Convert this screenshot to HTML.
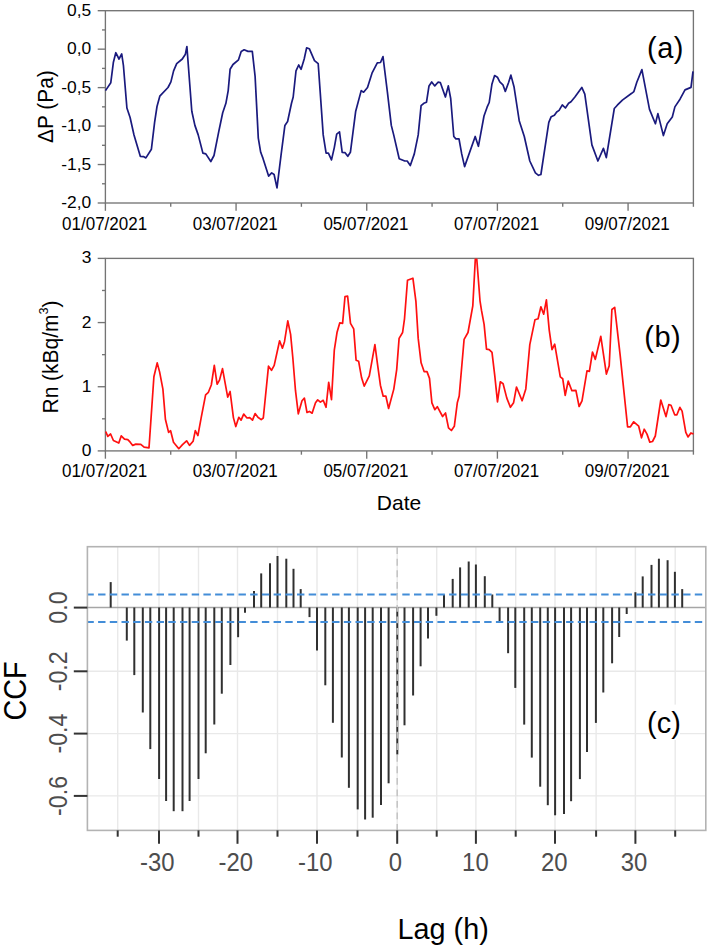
<!DOCTYPE html><html><head><meta charset="utf-8"><style>html,body{margin:0;padding:0;background:#fff;}svg{display:block;}text{font-family:"Liberation Sans", sans-serif;}</style></head><body>
<svg width="709" height="948" viewBox="0 0 709 948">
<rect width="709" height="948" fill="#fff"/>
<rect x="105.4" y="10.7" width="588.0" height="192.3" fill="none" stroke="#747474" stroke-width="1.35"/>
<line x1="97.70" y1="10.70" x2="105.40" y2="10.70" stroke="#747474" stroke-width="1.35" />
<text x="91.30" y="15.70" font-size="17.4" fill="#000" text-anchor="end" >0,5</text>
<line x1="102.00" y1="29.93" x2="105.40" y2="29.93" stroke="#747474" stroke-width="1.35" />
<line x1="97.70" y1="49.16" x2="105.40" y2="49.16" stroke="#747474" stroke-width="1.35" />
<text x="91.30" y="54.16" font-size="17.4" fill="#000" text-anchor="end" >0,0</text>
<line x1="102.00" y1="68.39" x2="105.40" y2="68.39" stroke="#747474" stroke-width="1.35" />
<line x1="97.70" y1="87.62" x2="105.40" y2="87.62" stroke="#747474" stroke-width="1.35" />
<text x="91.30" y="92.62" font-size="17.4" fill="#000" text-anchor="end" >-0,5</text>
<line x1="102.00" y1="106.85" x2="105.40" y2="106.85" stroke="#747474" stroke-width="1.35" />
<line x1="97.70" y1="126.08" x2="105.40" y2="126.08" stroke="#747474" stroke-width="1.35" />
<text x="91.30" y="131.08" font-size="17.4" fill="#000" text-anchor="end" >-1,0</text>
<line x1="102.00" y1="145.31" x2="105.40" y2="145.31" stroke="#747474" stroke-width="1.35" />
<line x1="97.70" y1="164.54" x2="105.40" y2="164.54" stroke="#747474" stroke-width="1.35" />
<text x="91.30" y="169.54" font-size="17.4" fill="#000" text-anchor="end" >-1,5</text>
<line x1="102.00" y1="183.77" x2="105.40" y2="183.77" stroke="#747474" stroke-width="1.35" />
<line x1="97.70" y1="203.00" x2="105.40" y2="203.00" stroke="#747474" stroke-width="1.35" />
<text x="91.30" y="208.00" font-size="17.4" fill="#000" text-anchor="end" >-2,0</text>
<line x1="105.40" y1="203.00" x2="105.40" y2="210.80" stroke="#747474" stroke-width="1.35" />
<text transform="translate(104.60,229.60) scale(0.966,1)" font-size="17.6" fill="#000" text-anchor="middle" >01/07/2021</text>
<line x1="170.73" y1="203.00" x2="170.73" y2="206.80" stroke="#747474" stroke-width="1.35" />
<line x1="236.07" y1="203.00" x2="236.07" y2="210.80" stroke="#747474" stroke-width="1.35" />
<text transform="translate(235.27,229.60) scale(0.966,1)" font-size="17.6" fill="#000" text-anchor="middle" >03/07/2021</text>
<line x1="301.40" y1="203.00" x2="301.40" y2="206.80" stroke="#747474" stroke-width="1.35" />
<line x1="366.73" y1="203.00" x2="366.73" y2="210.80" stroke="#747474" stroke-width="1.35" />
<text transform="translate(365.93,229.60) scale(0.966,1)" font-size="17.6" fill="#000" text-anchor="middle" >05/07/2021</text>
<line x1="432.07" y1="203.00" x2="432.07" y2="206.80" stroke="#747474" stroke-width="1.35" />
<line x1="497.40" y1="203.00" x2="497.40" y2="210.80" stroke="#747474" stroke-width="1.35" />
<text transform="translate(496.60,229.60) scale(0.966,1)" font-size="17.6" fill="#000" text-anchor="middle" >07/07/2021</text>
<line x1="562.73" y1="203.00" x2="562.73" y2="206.80" stroke="#747474" stroke-width="1.35" />
<line x1="628.07" y1="203.00" x2="628.07" y2="210.80" stroke="#747474" stroke-width="1.35" />
<text transform="translate(627.27,229.60) scale(0.966,1)" font-size="17.6" fill="#000" text-anchor="middle" >09/07/2021</text>
<line x1="693.40" y1="203.00" x2="693.40" y2="206.80" stroke="#747474" stroke-width="1.35" />
<polyline points="105.5,90.6 110.8,82.7 113.4,62.2 115.8,52.7 119.0,59.0 121.7,53.9 123.4,65.3 126.9,108.0 130.1,117.5 134.0,135.0 140.3,156.3 143.5,156.6 145.9,157.9 151.4,149.2 154.6,122.3 157.0,106.5 159.8,96.2 168.0,87.5 170.9,81.9 173.6,70.9 176.7,63.7 182.3,59.0 185.4,54.2 186.9,46.5 191.8,111.2 194.9,125.4 198.2,134.9 202.9,153.1 205.8,153.9 210.8,161.5 214.0,155.5 218.7,131.8 222.7,112.8 225.9,103.3 228.2,90.6 230.1,69.3 233.0,64.5 238.5,59.8 241.2,51.4 244.1,49.8 248.0,51.4 252.3,51.4 255.1,76.4 258.3,138.1 260.7,152.3 263.0,158.4 268.6,176.1 271.7,172.9 274.1,174.5 277.0,187.9 281.2,153.9 284.9,125.4 287.6,121.5 291.5,103.3 293.2,97.0 296.0,70.9 298.7,65.0 301.1,69.3 304.2,59.0 306.6,47.9 309.3,48.7 314.5,60.6 318.2,63.7 320.1,90.6 323.2,134.9 326.1,153.1 328.4,153.1 331.5,159.9 334.3,147.6 336.7,134.1 339.5,131.8 342.2,152.3 345.1,152.7 347.8,156.3 350.4,152.3 355.7,111.2 361.2,90.6 363.6,92.2 367.5,87.5 372.0,73.2 377.3,62.9 380.5,62.5 383.0,56.6 387.4,92.2 391.3,125.4 393.7,134.9 399.2,158.7 404.8,161.0 407.2,161.0 410.3,165.5 414.3,153.9 418.2,134.9 421.1,105.7 423.8,103.3 426.5,102.2 429.0,85.9 431.7,81.9 434.8,85.9 438.0,82.2 440.4,82.7 445.4,97.0 448.3,85.9 450.7,98.5 453.8,136.5 455.9,138.9 459.0,138.9 461.7,153.9 464.6,166.6 475.2,136.5 478.4,146.3 484.0,116.0 487.1,107.2 489.2,102.5 491.9,84.3 494.6,75.6 497.4,77.2 499.8,81.9 502.9,84.8 505.3,91.4 508.5,82.7 510.9,75.1 514.0,86.7 519.2,120.7 524.3,136.5 529.8,161.0 535.4,172.9 538.5,175.3 540.9,174.5 548.8,122.3 551.2,116.7 554.4,115.2 556.7,112.0 559.1,110.4 562.3,104.9 565.4,108.0 568.6,103.3 571.0,101.7 574.9,97.0 581.8,87.4 584.8,94.2 591.9,144.9 597.9,161.0 603.4,148.3 606.3,157.6 614.3,108.5 617.3,105.2 622.4,100.1 631.7,93.3 633.9,91.6 636.8,82.3 641.9,69.6 649.5,109.4 655.4,123.8 657.9,113.6 663.4,135.6 667.2,123.8 672.3,117.0 674.9,106.9 680.0,99.2 685.0,89.9 691.0,87.4 693.0,71.3" fill="none" stroke="#1a1a7e" stroke-width="1.7" stroke-linejoin="round"/>
<text x="647.00" y="57.70" font-size="29" fill="#000" text-anchor="start" letter-spacing="0.5">(a)</text>
<text transform="translate(52.80,106.60) rotate(-90) scale(0.915,1)" font-size="22.8" fill="#000" text-anchor="middle" >&#916;P (Pa)</text>
<rect x="105.4" y="258.4" width="588.0" height="192.5" fill="none" stroke="#747474" stroke-width="1.35"/>
<line x1="97.70" y1="450.90" x2="105.40" y2="450.90" stroke="#747474" stroke-width="1.35" />
<text x="91.30" y="455.90" font-size="17.4" fill="#000" text-anchor="end" >0</text>
<line x1="102.00" y1="418.82" x2="105.40" y2="418.82" stroke="#747474" stroke-width="1.35" />
<line x1="97.70" y1="386.73" x2="105.40" y2="386.73" stroke="#747474" stroke-width="1.35" />
<text x="91.30" y="391.73" font-size="17.4" fill="#000" text-anchor="end" >1</text>
<line x1="102.00" y1="354.65" x2="105.40" y2="354.65" stroke="#747474" stroke-width="1.35" />
<line x1="97.70" y1="322.57" x2="105.40" y2="322.57" stroke="#747474" stroke-width="1.35" />
<text x="91.30" y="327.57" font-size="17.4" fill="#000" text-anchor="end" >2</text>
<line x1="102.00" y1="290.48" x2="105.40" y2="290.48" stroke="#747474" stroke-width="1.35" />
<line x1="97.70" y1="258.40" x2="105.40" y2="258.40" stroke="#747474" stroke-width="1.35" />
<text x="91.30" y="263.40" font-size="17.4" fill="#000" text-anchor="end" >3</text>
<line x1="105.40" y1="450.90" x2="105.40" y2="458.70" stroke="#747474" stroke-width="1.35" />
<text transform="translate(104.60,477.00) scale(0.966,1)" font-size="17.6" fill="#000" text-anchor="middle" >01/07/2021</text>
<line x1="170.73" y1="450.90" x2="170.73" y2="454.70" stroke="#747474" stroke-width="1.35" />
<line x1="236.07" y1="450.90" x2="236.07" y2="458.70" stroke="#747474" stroke-width="1.35" />
<text transform="translate(235.27,477.00) scale(0.966,1)" font-size="17.6" fill="#000" text-anchor="middle" >03/07/2021</text>
<line x1="301.40" y1="450.90" x2="301.40" y2="454.70" stroke="#747474" stroke-width="1.35" />
<line x1="366.73" y1="450.90" x2="366.73" y2="458.70" stroke="#747474" stroke-width="1.35" />
<text transform="translate(365.93,477.00) scale(0.966,1)" font-size="17.6" fill="#000" text-anchor="middle" >05/07/2021</text>
<line x1="432.07" y1="450.90" x2="432.07" y2="454.70" stroke="#747474" stroke-width="1.35" />
<line x1="497.40" y1="450.90" x2="497.40" y2="458.70" stroke="#747474" stroke-width="1.35" />
<text transform="translate(496.60,477.00) scale(0.966,1)" font-size="17.6" fill="#000" text-anchor="middle" >07/07/2021</text>
<line x1="562.73" y1="450.90" x2="562.73" y2="454.70" stroke="#747474" stroke-width="1.35" />
<line x1="628.07" y1="450.90" x2="628.07" y2="458.70" stroke="#747474" stroke-width="1.35" />
<text transform="translate(627.27,477.00) scale(0.966,1)" font-size="17.6" fill="#000" text-anchor="middle" >09/07/2021</text>
<line x1="693.40" y1="450.90" x2="693.40" y2="454.70" stroke="#747474" stroke-width="1.35" />
<polyline points="105.7,431.5 107.8,436.4 110.6,434.0 113.4,440.5 118.8,443.0 121.2,435.9 124.5,439.2 127.8,439.7 130.2,442.2 132.7,445.4 135.9,444.1 140.8,444.3 144.1,447.1 149.0,447.9 153.9,376.8 157.2,362.9 159.6,371.9 162.9,389.1 165.4,419.3 168.6,432.4 170.6,430.7 173.5,442.2 178.8,448.7 182.5,444.6 186.6,440.8 189.5,445.4 193.1,441.3 195.3,430.7 197.9,435.6 201.2,417.6 205.6,394.8 208.4,392.3 211.3,385.0 214.3,365.4 217.1,384.2 219.5,380.1 222.5,368.6 227.7,397.2 230.1,391.5 233.4,417.6 235.8,426.6 238.8,417.3 241.1,420.1 243.7,414.1 247.0,418.0 249.7,417.6 252.5,420.1 255.1,413.6 257.9,417.3 261.2,419.6 263.3,418.0 268.5,366.2 271.5,370.3 274.2,365.4 279.6,340.8 282.4,348.2 284.5,341.7 287.8,320.9 290.6,334.3 292.8,357.5 295.5,390.7 298.3,413.8 302.0,400.8 304.4,398.1 307.0,412.5 309.4,411.4 312.1,413.2 315.5,402.7 317.7,399.9 320.4,402.1 323.2,400.3 326.0,407.3 328.7,382.4 331.5,399.6 334.3,350.1 337.0,332.6 339.8,322.8 342.6,323.4 345.0,296.6 347.6,296.2 350.5,323.4 353.7,328.9 356.1,360.3 358.6,361.2 361.6,377.8 364.2,386.1 369.3,375.9 374.9,344.6 377.6,364.9 380.4,385.2 383.2,396.2 385.9,396.2 388.6,408.5 393.8,389.1 396.7,369.6 399.1,338.4 402.6,332.5 404.5,318.8 407.5,280.2 412.9,278.2 415.9,301.3 418.2,338.4 421.1,362.8 424.1,371.6 427.0,371.6 429.5,378.4 431.9,402.8 434.8,409.6 437.3,406.7 442.6,416.5 445.5,413.0 448.5,427.8 451.4,430.5 454.3,426.3 457.3,402.8 459.2,396.0 464.1,339.3 468.0,332.5 472.8,305.8 475.3,259.3 476.8,259.3 480.0,300.8 481.5,310.4 484.1,324.3 486.5,349.2 489.2,349.7 492.0,352.3 494.8,375.9 497.5,401.8 500.3,381.8 503.1,383.7 506.8,398.1 510.4,407.3 513.6,402.7 516.5,387.0 522.1,400.8 525.8,388.9 529.8,344.6 535.0,319.7 538.1,318.7 540.9,306.8 543.7,314.1 546.4,299.9 549.2,329.8 552.0,349.7 554.7,344.2 560.3,376.9 562.7,378.7 565.2,395.3 568.2,381.1 571.9,390.7 575.9,390.3 579.1,406.5 582.0,400.9 587.0,370.8 589.4,371.4 592.5,352.0 595.3,359.4 600.8,336.3 606.4,374.1 609.2,365.8 611.9,309.5 614.7,307.3 620.2,355.7 627.6,426.8 630.4,426.8 633.7,421.8 638.7,426.2 641.5,437.8 644.2,429.2 647.0,434.1 649.8,442.1 652.5,441.5 655.3,436.0 660.8,400.0 666.0,416.6 668.8,404.6 671.0,405.2 674.7,414.8 676.9,414.8 679.9,407.4 682.1,411.1 685.8,432.3 688.0,436.9 690.9,432.9 693.5,434.1" fill="none" stroke="#ff1010" stroke-width="1.7" stroke-linejoin="round"/>
<text x="644.30" y="346.60" font-size="29" fill="#000" text-anchor="start" letter-spacing="0.5">(b)</text>
<text transform="translate(58.00,357.00) rotate(-90) scale(0.94,1)" font-size="22.3" fill="#000" text-anchor="middle" >Rn (kBq/m<tspan dy="-10" font-size="13.5">3</tspan><tspan dy="10">)</tspan></text>
<text x="399.00" y="510.00" font-size="21" fill="#000" text-anchor="middle" >Date</text>
<line x1="117.70" y1="546.70" x2="117.70" y2="830.40" stroke="#e9e9e9" stroke-width="1.4" />
<line x1="159.00" y1="546.70" x2="159.00" y2="830.40" stroke="#e9e9e9" stroke-width="1.4" />
<line x1="198.50" y1="546.70" x2="198.50" y2="830.40" stroke="#e9e9e9" stroke-width="1.4" />
<line x1="237.50" y1="546.70" x2="237.50" y2="830.40" stroke="#e9e9e9" stroke-width="1.4" />
<line x1="277.50" y1="546.70" x2="277.50" y2="830.40" stroke="#e9e9e9" stroke-width="1.4" />
<line x1="317.00" y1="546.70" x2="317.00" y2="830.40" stroke="#e9e9e9" stroke-width="1.4" />
<line x1="357.50" y1="546.70" x2="357.50" y2="830.40" stroke="#e9e9e9" stroke-width="1.4" />
<line x1="397.20" y1="546.70" x2="397.20" y2="830.40" stroke="#e9e9e9" stroke-width="1.4" />
<line x1="436.70" y1="546.70" x2="436.70" y2="830.40" stroke="#e9e9e9" stroke-width="1.4" />
<line x1="475.90" y1="546.70" x2="475.90" y2="830.40" stroke="#e9e9e9" stroke-width="1.4" />
<line x1="515.70" y1="546.70" x2="515.70" y2="830.40" stroke="#e9e9e9" stroke-width="1.4" />
<line x1="555.00" y1="546.70" x2="555.00" y2="830.40" stroke="#e9e9e9" stroke-width="1.4" />
<line x1="596.10" y1="546.70" x2="596.10" y2="830.40" stroke="#e9e9e9" stroke-width="1.4" />
<line x1="635.40" y1="546.70" x2="635.40" y2="830.40" stroke="#e9e9e9" stroke-width="1.4" />
<line x1="675.20" y1="546.70" x2="675.20" y2="830.40" stroke="#e9e9e9" stroke-width="1.4" />
<line x1="87.40" y1="671.30" x2="705.80" y2="671.30" stroke="#e9e9e9" stroke-width="1.4" />
<line x1="87.40" y1="733.60" x2="705.80" y2="733.60" stroke="#e9e9e9" stroke-width="1.4" />
<line x1="87.40" y1="795.90" x2="705.80" y2="795.90" stroke="#e9e9e9" stroke-width="1.4" />
<rect x="649" y="704.6" width="31" height="35.39999999999998" fill="#fff"/>
<line x1="87.40" y1="607.50" x2="705.80" y2="607.50" stroke="#a6a6a6" stroke-width="1.4" />
<line x1="110.70" y1="607.50" x2="110.70" y2="582.10" stroke="#303030" stroke-width="2.0" />
<line x1="126.80" y1="607.50" x2="126.80" y2="640.60" stroke="#303030" stroke-width="2.0" />
<line x1="134.30" y1="607.50" x2="134.30" y2="675.10" stroke="#303030" stroke-width="2.0" />
<line x1="142.80" y1="607.50" x2="142.80" y2="712.50" stroke="#303030" stroke-width="2.0" />
<line x1="150.30" y1="607.50" x2="150.30" y2="749.10" stroke="#303030" stroke-width="2.0" />
<line x1="159.10" y1="607.50" x2="159.10" y2="779.00" stroke="#303030" stroke-width="2.0" />
<line x1="166.10" y1="607.50" x2="166.10" y2="801.00" stroke="#303030" stroke-width="2.0" />
<line x1="173.70" y1="607.50" x2="173.70" y2="811.20" stroke="#303030" stroke-width="2.0" />
<line x1="182.50" y1="607.50" x2="182.50" y2="811.20" stroke="#303030" stroke-width="2.0" />
<line x1="189.60" y1="607.50" x2="189.60" y2="801.00" stroke="#303030" stroke-width="2.0" />
<line x1="198.50" y1="607.50" x2="198.50" y2="779.00" stroke="#303030" stroke-width="2.0" />
<line x1="205.70" y1="607.50" x2="205.70" y2="753.30" stroke="#303030" stroke-width="2.0" />
<line x1="214.30" y1="607.50" x2="214.30" y2="724.50" stroke="#303030" stroke-width="2.0" />
<line x1="221.80" y1="607.50" x2="221.80" y2="693.70" stroke="#303030" stroke-width="2.0" />
<line x1="230.40" y1="607.50" x2="230.40" y2="665.00" stroke="#303030" stroke-width="2.0" />
<line x1="238.10" y1="607.50" x2="238.10" y2="637.20" stroke="#303030" stroke-width="2.0" />
<line x1="245.00" y1="607.50" x2="245.00" y2="612.80" stroke="#303030" stroke-width="2.0" />
<line x1="254.00" y1="607.50" x2="254.00" y2="591.00" stroke="#303030" stroke-width="2.0" />
<line x1="261.20" y1="607.50" x2="261.20" y2="573.40" stroke="#303030" stroke-width="2.0" />
<line x1="270.00" y1="607.50" x2="270.00" y2="563.20" stroke="#303030" stroke-width="2.0" />
<line x1="277.50" y1="607.50" x2="277.50" y2="556.00" stroke="#303030" stroke-width="2.0" />
<line x1="286.30" y1="607.50" x2="286.30" y2="558.70" stroke="#303030" stroke-width="2.0" />
<line x1="293.50" y1="607.50" x2="293.50" y2="568.80" stroke="#303030" stroke-width="2.0" />
<line x1="300.70" y1="607.50" x2="300.70" y2="589.10" stroke="#303030" stroke-width="2.0" />
<line x1="309.50" y1="607.50" x2="309.50" y2="617.10" stroke="#303030" stroke-width="2.0" />
<line x1="317.00" y1="607.50" x2="317.00" y2="650.40" stroke="#303030" stroke-width="2.0" />
<line x1="325.30" y1="607.50" x2="325.30" y2="685.30" stroke="#303030" stroke-width="2.0" />
<line x1="332.90" y1="607.50" x2="332.90" y2="722.80" stroke="#303030" stroke-width="2.0" />
<line x1="341.80" y1="607.50" x2="341.80" y2="757.50" stroke="#303030" stroke-width="2.0" />
<line x1="348.90" y1="607.50" x2="348.90" y2="787.80" stroke="#303030" stroke-width="2.0" />
<line x1="357.70" y1="607.50" x2="357.70" y2="809.40" stroke="#303030" stroke-width="2.0" />
<line x1="365.10" y1="607.50" x2="365.10" y2="819.50" stroke="#303030" stroke-width="2.0" />
<line x1="372.70" y1="607.50" x2="372.70" y2="817.70" stroke="#303030" stroke-width="2.0" />
<line x1="381.00" y1="607.50" x2="381.00" y2="805.10" stroke="#303030" stroke-width="2.0" />
<line x1="388.60" y1="607.50" x2="388.60" y2="783.30" stroke="#303030" stroke-width="2.0" />
<line x1="397.30" y1="607.50" x2="397.30" y2="754.50" stroke="#303030" stroke-width="2.0" />
<line x1="404.50" y1="607.50" x2="404.50" y2="725.30" stroke="#303030" stroke-width="2.0" />
<line x1="413.10" y1="607.50" x2="413.10" y2="695.50" stroke="#303030" stroke-width="2.0" />
<line x1="420.60" y1="607.50" x2="420.60" y2="666.30" stroke="#303030" stroke-width="2.0" />
<line x1="428.00" y1="607.50" x2="428.00" y2="638.60" stroke="#303030" stroke-width="2.0" />
<line x1="436.40" y1="607.50" x2="436.40" y2="615.80" stroke="#303030" stroke-width="2.0" />
<line x1="444.00" y1="607.50" x2="444.00" y2="594.50" stroke="#303030" stroke-width="2.0" />
<line x1="452.70" y1="607.50" x2="452.70" y2="578.90" stroke="#303030" stroke-width="2.0" />
<line x1="460.10" y1="607.50" x2="460.10" y2="567.40" stroke="#303030" stroke-width="2.0" />
<line x1="468.70" y1="607.50" x2="468.70" y2="561.50" stroke="#303030" stroke-width="2.0" />
<line x1="475.90" y1="607.50" x2="475.90" y2="564.50" stroke="#303030" stroke-width="2.0" />
<line x1="484.80" y1="607.50" x2="484.80" y2="576.20" stroke="#303030" stroke-width="2.0" />
<line x1="492.30" y1="607.50" x2="492.30" y2="594.50" stroke="#303030" stroke-width="2.0" />
<line x1="499.60" y1="607.50" x2="499.60" y2="622.50" stroke="#303030" stroke-width="2.0" />
<line x1="508.10" y1="607.50" x2="508.10" y2="653.20" stroke="#303030" stroke-width="2.0" />
<line x1="515.30" y1="607.50" x2="515.30" y2="687.90" stroke="#303030" stroke-width="2.0" />
<line x1="524.20" y1="607.50" x2="524.20" y2="724.60" stroke="#303030" stroke-width="2.0" />
<line x1="531.80" y1="607.50" x2="531.80" y2="757.60" stroke="#303030" stroke-width="2.0" />
<line x1="540.20" y1="607.50" x2="540.20" y2="786.70" stroke="#303030" stroke-width="2.0" />
<line x1="547.80" y1="607.50" x2="547.80" y2="805.20" stroke="#303030" stroke-width="2.0" />
<line x1="555.10" y1="607.50" x2="555.10" y2="815.30" stroke="#303030" stroke-width="2.0" />
<line x1="564.00" y1="607.50" x2="564.00" y2="814.10" stroke="#303030" stroke-width="2.0" />
<line x1="571.10" y1="607.50" x2="571.10" y2="801.20" stroke="#303030" stroke-width="2.0" />
<line x1="579.90" y1="607.50" x2="579.90" y2="779.10" stroke="#303030" stroke-width="2.0" />
<line x1="587.00" y1="607.50" x2="587.00" y2="752.00" stroke="#303030" stroke-width="2.0" />
<line x1="595.90" y1="607.50" x2="595.90" y2="722.90" stroke="#303030" stroke-width="2.0" />
<line x1="603.30" y1="607.50" x2="603.30" y2="692.50" stroke="#303030" stroke-width="2.0" />
<line x1="612.10" y1="607.50" x2="612.10" y2="663.30" stroke="#303030" stroke-width="2.0" />
<line x1="619.20" y1="607.50" x2="619.20" y2="637.00" stroke="#303030" stroke-width="2.0" />
<line x1="626.70" y1="607.50" x2="626.70" y2="614.00" stroke="#303030" stroke-width="2.0" />
<line x1="635.40" y1="607.50" x2="635.40" y2="592.20" stroke="#303030" stroke-width="2.0" />
<line x1="642.70" y1="607.50" x2="642.70" y2="576.40" stroke="#303030" stroke-width="2.0" />
<line x1="651.50" y1="607.50" x2="651.50" y2="564.90" stroke="#303030" stroke-width="2.0" />
<line x1="658.90" y1="607.50" x2="658.90" y2="558.70" stroke="#303030" stroke-width="2.0" />
<line x1="667.60" y1="607.50" x2="667.60" y2="560.20" stroke="#303030" stroke-width="2.0" />
<line x1="674.90" y1="607.50" x2="674.90" y2="571.80" stroke="#303030" stroke-width="2.0" />
<line x1="682.20" y1="607.50" x2="682.20" y2="589.10" stroke="#303030" stroke-width="2.0" />
<line x1="87.40" y1="594.60" x2="705.80" y2="594.60" stroke="#438dd8" stroke-width="2.0" stroke-dasharray="7.4 4.3" stroke-dashoffset="1.0"/>
<line x1="87.40" y1="622.00" x2="705.80" y2="622.00" stroke="#438dd8" stroke-width="2.0" stroke-dasharray="7.4 4.3" stroke-dashoffset="1.0"/>
<line x1="397.20" y1="546.70" x2="397.20" y2="830.40" stroke="#c4c4c4" stroke-width="1.5" stroke-dasharray="6.8 4.73" stroke-dashoffset="-0.6"/>
<rect x="87.4" y="546.7" width="618.4" height="283.69999999999993" fill="none" stroke="#b3b3b3" stroke-width="1.6"/>
<line x1="117.70" y1="830.40" x2="117.70" y2="836.70" stroke="#333333" stroke-width="2.0" />
<line x1="159.00" y1="830.40" x2="159.00" y2="843.80" stroke="#333333" stroke-width="2.0" />
<text transform="translate(157.20,870.70) scale(0.955,1)" font-size="25" fill="#4d4d4d" text-anchor="middle" >-30</text>
<line x1="198.50" y1="830.40" x2="198.50" y2="836.70" stroke="#333333" stroke-width="2.0" />
<line x1="237.50" y1="830.40" x2="237.50" y2="843.80" stroke="#333333" stroke-width="2.0" />
<text transform="translate(235.70,870.70) scale(0.955,1)" font-size="25" fill="#4d4d4d" text-anchor="middle" >-20</text>
<line x1="277.50" y1="830.40" x2="277.50" y2="836.70" stroke="#333333" stroke-width="2.0" />
<line x1="317.00" y1="830.40" x2="317.00" y2="843.80" stroke="#333333" stroke-width="2.0" />
<text transform="translate(315.20,870.70) scale(0.955,1)" font-size="25" fill="#4d4d4d" text-anchor="middle" >-10</text>
<line x1="357.50" y1="830.40" x2="357.50" y2="836.70" stroke="#333333" stroke-width="2.0" />
<line x1="397.20" y1="830.40" x2="397.20" y2="843.80" stroke="#333333" stroke-width="2.0" />
<text transform="translate(395.40,870.70) scale(0.955,1)" font-size="25" fill="#4d4d4d" text-anchor="middle" >0</text>
<line x1="436.70" y1="830.40" x2="436.70" y2="836.70" stroke="#333333" stroke-width="2.0" />
<line x1="475.90" y1="830.40" x2="475.90" y2="843.80" stroke="#333333" stroke-width="2.0" />
<text transform="translate(475.40,870.70) scale(0.955,1)" font-size="25" fill="#4d4d4d" text-anchor="middle" >10</text>
<line x1="515.70" y1="830.40" x2="515.70" y2="836.70" stroke="#333333" stroke-width="2.0" />
<line x1="555.00" y1="830.40" x2="555.00" y2="843.80" stroke="#333333" stroke-width="2.0" />
<text transform="translate(554.20,870.70) scale(0.955,1)" font-size="25" fill="#4d4d4d" text-anchor="middle" >20</text>
<line x1="596.10" y1="830.40" x2="596.10" y2="836.70" stroke="#333333" stroke-width="2.0" />
<line x1="635.40" y1="830.40" x2="635.40" y2="843.80" stroke="#333333" stroke-width="2.0" />
<text transform="translate(634.10,870.70) scale(0.955,1)" font-size="25" fill="#4d4d4d" text-anchor="middle" >30</text>
<line x1="675.20" y1="830.40" x2="675.20" y2="836.70" stroke="#333333" stroke-width="2.0" />
<line x1="73.80" y1="607.60" x2="87.40" y2="607.60" stroke="#333333" stroke-width="2.0" />
<text transform="translate(66.60,607.60) rotate(-90) scale(0.892,1)" font-size="26" fill="#4d4d4d" text-anchor="middle" >0.0</text>
<line x1="73.80" y1="671.30" x2="87.40" y2="671.30" stroke="#333333" stroke-width="2.0" />
<text transform="translate(66.60,671.30) rotate(-90) scale(0.892,1)" font-size="26" fill="#4d4d4d" text-anchor="middle" >-0.2</text>
<line x1="73.80" y1="733.60" x2="87.40" y2="733.60" stroke="#333333" stroke-width="2.0" />
<text transform="translate(66.60,733.60) rotate(-90) scale(0.892,1)" font-size="26" fill="#4d4d4d" text-anchor="middle" >-0.4</text>
<line x1="73.80" y1="795.90" x2="87.40" y2="795.90" stroke="#333333" stroke-width="2.0" />
<text transform="translate(66.60,795.90) rotate(-90) scale(0.892,1)" font-size="26" fill="#4d4d4d" text-anchor="middle" >-0.6</text>
<text transform="translate(25.60,691.00) rotate(-90) scale(0.927,1)" font-size="31" fill="#000" text-anchor="middle" >CCF</text>
<text transform="translate(397.60,939.30) scale(0.96,1)" font-size="30" fill="#000" text-anchor="start" >Lag (h)</text>
<text x="647.10" y="733.30" font-size="28.9" fill="#000" text-anchor="start" >(c)</text>
</svg></body></html>
